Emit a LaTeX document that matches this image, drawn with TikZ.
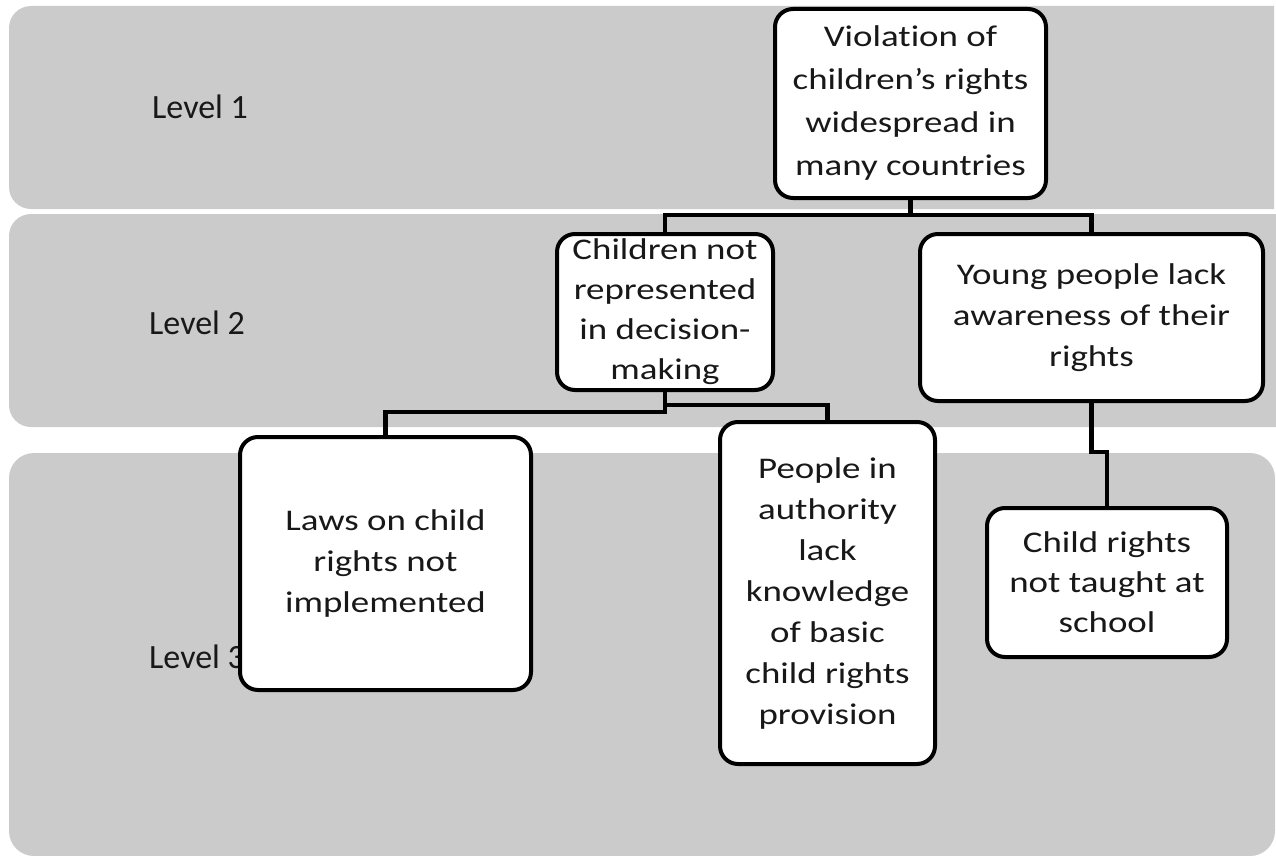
\documentclass[tikz,border=0pt]{standalone}
\usepackage{fontspec}
\setmainfont{Carlito}[Ligatures=NoCommon]
\newfontfamily\boxfont{Carlito}[FakeStretch=1.23, Ligatures=NoCommon]
\definecolor{bandgray}{RGB}{203,203,203}
\definecolor{inkgray}{RGB}{24,24,24}
\begin{document}
\begin{tikzpicture}[x=1pt,y=-1pt,
  band/.style={fill=bandgray, rounded corners=22pt},
  levellabel/.style={anchor=base west, inner sep=0pt, text=inkgray,
    font=\fontsize{34}{40}\selectfont},
  causebox/.style={draw=black, fill=white, line width=4pt, rounded corners=18pt,
    inner sep=0pt, align=center, text=inkgray,
    font=\boxfont\fontsize{30}{41}\selectfont},
  conn/.style={draw=black, line width=4.5pt}]
\useasboundingbox (0,0) rectangle (1276,856);

% level bands
\begin{scope}
  \clip (0,0) rectangle (1274,856);
  \fill[band] (9,6) rectangle (1300,209);
\end{scope}
\begin{scope}
  \clip (0,0) rectangle (1276,856);
  \fill[band] (9,214) rectangle (1300,427);
\end{scope}
\fill[band, rounded corners=25pt] (9,453) rectangle (1275,856);

% level labels
\node[levellabel] (l1) at (152,118) {Level 1};
\node[levellabel] (l2) at (149,334) {Level 2};
\node[levellabel] (l3) at (149,668) {Level 3};

% problem tree boxes
\node[causebox, minimum width=271pt, minimum height=189pt,
      font=\boxfont\fontsize{30}{43}\selectfont] (top) at (910.5,103.5)
  {Violation of\\children’s rights\\widespread in\\many countries};
\node[causebox, minimum width=216pt, minimum height=156pt,
      font=\boxfont\fontsize{30}{40}\selectfont] (chil) at (665,312)
  {Children not\\represented\\in decision-\\making};
\node[causebox, minimum width=343pt, minimum height=167pt] (young) at (1091.5,317.5)
  {Young people lack\\awareness of their\\rights};
\node[causebox, minimum width=291pt, minimum height=253pt] (laws) at (385.5,563.5)
  {Laws on child\\rights not\\implemented};
\node[causebox, minimum width=215pt, minimum height=342pt] (auth) at (827.5,593)
  {People in\\authority\\lack\\knowledge\\of basic\\child rights\\provision};
\node[causebox, minimum width=240pt, minimum height=149pt,
      font=\boxfont\fontsize{30}{40}\selectfont] (school) at (1107,582.5)
  {Child rights\\not taught at\\school};

% connectors
\draw[conn] (top.south) -- (top.south |- 0,215);
\draw[conn] (chil.north) -- (chil.north |- 0,215) -- (young.north |- 0,215) -- (young.north);
\draw[conn] (chil.south) -- (chil.south |- 0,412) -- (laws.north |- 0,412) -- (laws.north);
\draw[conn] (chil.south |- 0,405) -- (auth.north |- 0,405) -- (auth.north);
\draw[conn] (young.south) -- (young.south |- 0,452) -- (school.north |- 0,452) -- (school.north);
\end{tikzpicture}
\end{document}
